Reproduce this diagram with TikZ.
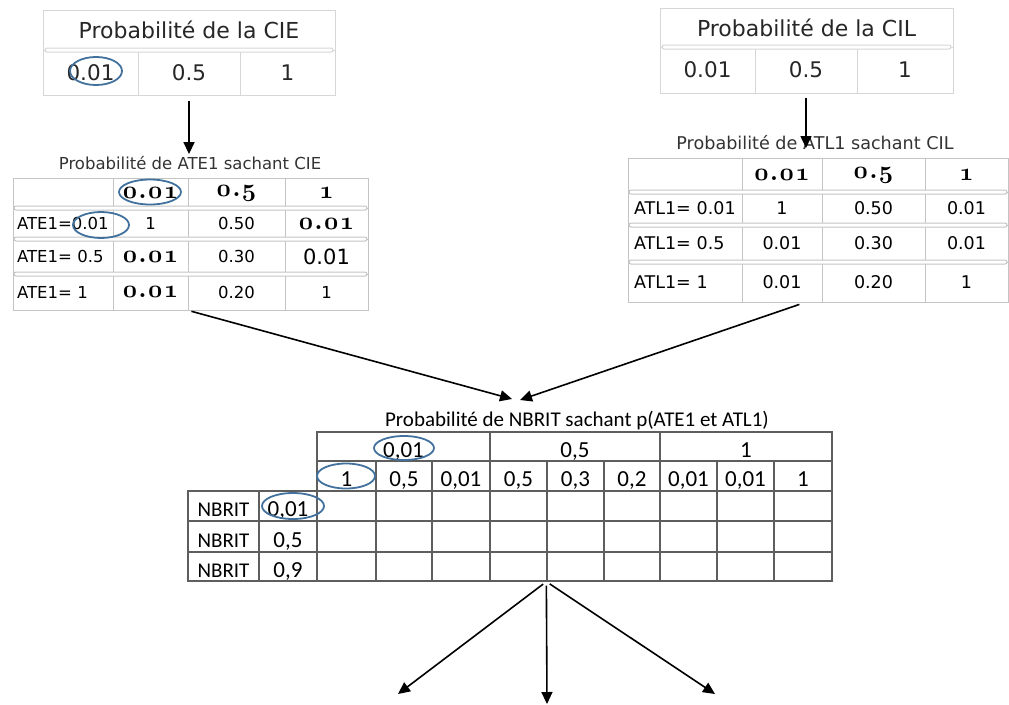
\documentclass[tikz,border=0pt]{standalone}
\usepackage{fontspec}
\setmainfont{DejaVu Sans}
\newfontfamily\carlfont{Carlito}
\usepackage{tikz}
\usetikzlibrary{shapes.geometric,arrows.meta,positioning,calc}

\definecolor{pickblue}{HTML}{41719C}
\definecolor{lightrule}{HTML}{D6D6D6}
\definecolor{midrule}{HTML}{C4C4C4}
\definecolor{darkrule}{HTML}{5E5E5E}

% old style figures of the header cells
\newcommand{\oldfig}[1]{{\fontsize{24.88}{28}\selectfont\boldmath$\mathnormal{#1}$}}

\tikzset{
  headcell/.style={rectangle, draw=lightrule, line width=1pt, inner sep=0pt,
    font=\fontsize{22}{26}\selectfont, text=black!85},
  probcell/.style={rectangle, draw=lightrule, line width=1pt, inner sep=0pt,
    font=\fontsize{21.5}{25}\selectfont, text=black!85},
  sepbar/.style={rectangle, draw=lightrule, fill=white, rounded corners=2pt, line width=1pt,
    minimum height=4pt, inner sep=0pt},
  condsep/.style={sepbar, draw=midrule},
  condtitle/.style={inner sep=0pt, font=\fontsize{16.5}{20}\selectfont, text=black!80},
  condcell/.style={rectangle, draw=midrule, line width=1pt, inner sep=0pt,
    font=\fontsize{16.5}{19}\selectfont},
  condlabel/.style={condcell, inner xsep=4pt, text width=#1, align=left},
  nbrtext/.style={inner sep=0pt, font=\carlfont\fontsize{21}{25}\selectfont},
  nbrcell/.style={rectangle, draw=darkrule, line width=1.3pt, inner sep=0pt,
    text height=21pt, text depth=0pt, font=\carlfont\fontsize{23}{27}\selectfont},
  nbrlabel/.style={nbrcell, font=\carlfont\fontsize{21}{25}\selectfont},
  pick/.style={ellipse, draw=pickblue, line width=1.8pt, inner sep=0pt},
  flowarrow/.style={-{Triangle[length=12pt,width=11pt]}, draw=black, line width=1.6pt},
}

\begin{document}
\begin{tikzpicture}[x=1pt, y=-1pt]
  \useasboundingbox (0,0) rectangle (1009,704);

  % Prior of CIE (top left)
  \node[headcell, minimum width=292pt, minimum height=40pt] (ciehead) at (189,30) {Probabilité de la CIE};
  \node[probcell, minimum width=95pt, minimum height=45pt] (cie1) at (90.5,72.5) {0.01};
  \node[probcell, minimum width=102pt, minimum height=45pt] (cie2) at (189,72.5) {0.5};
  \node[probcell, minimum width=95pt, minimum height=45pt] (cie3) at (287.5,72.5) {1};
  \node[sepbar, minimum width=288pt] (ciesep) at (189,50) {};
  \node[pick, minimum width=52pt, minimum height=28pt] (ciepick) at (96,71) {};

  % Prior of CIL (top right)
  \node[headcell, minimum width=293pt, minimum height=39pt] (cilhead) at (806.5,27.5) {Probabilité de la CIL};
  \node[probcell, minimum width=95pt, minimum height=46pt] (cil1) at (707.5,70) {0.01};
  \node[probcell, minimum width=102pt, minimum height=46pt] (cil2) at (806,70) {0.5};
  \node[probcell, minimum width=96pt, minimum height=46pt] (cil3) at (905,70) {1};
  \node[sepbar, minimum width=289pt] (cilsep) at (806.5,47) {};

  % ATE1 given CIE (middle left)
  \node[condtitle] (atetitle) at (190,163) {Probabilité de ATE1 sachant CIE};
  \node[condcell, minimum width=100pt, minimum height=30pt] (ate00) at (63,193) {};
  \node[condcell, minimum width=75pt, minimum height=30pt] (ate01) at (150.5,193) {\oldfig{0\kern1.5pt.\kern1.5pt0\kern1.5pt1}};
  \node[condcell, minimum width=97pt, minimum height=30pt] (ate02) at (236.5,193) {\oldfig{0\kern1.5pt.\kern1.5pt5}};
  \node[condcell, minimum width=83pt, minimum height=30pt] (ate03) at (326.5,193) {\oldfig{1}};
  \node[condlabel=92pt, minimum height=31pt] (ate10) at (63,223.5) {ATE1=0.01};
  \node[condcell, minimum width=75pt, minimum height=31pt] (ate11) at (150.5,223.5) {1};
  \node[condcell, minimum width=97pt, minimum height=31pt] (ate12) at (236.5,223.5) {0.50};
  \node[condcell, minimum width=83pt, minimum height=31pt] (ate13) at (326.5,223.5) {\oldfig{0\kern1.5pt.\kern1.5pt0\kern1.5pt1}};
  \node[condlabel=92pt, minimum height=35pt] (ate20) at (63,256.5) {ATE1= 0.5};
  \node[condcell, minimum width=75pt, minimum height=35pt] (ate21) at (150.5,256.5) {\oldfig{0\kern1.5pt.\kern1.5pt0\kern1.5pt1}};
  \node[condcell, minimum width=97pt, minimum height=35pt] (ate22) at (236.5,256.5) {0.30};
  \node[condcell, minimum width=83pt, minimum height=35pt, font=\fontsize{21}{25}\selectfont] (ate23) at (326.5,256.5) {0.01};
  \node[condlabel=92pt, minimum height=36pt] (ate30) at (63,292) {ATE1= 1};
  \node[condcell, minimum width=75pt, minimum height=36pt] (ate31) at (150.5,292) {\oldfig{0\kern1.5pt.\kern1.5pt0\kern1.5pt1}};
  \node[condcell, minimum width=97pt, minimum height=36pt] (ate32) at (236.5,292) {0.20};
  \node[condcell, minimum width=83pt, minimum height=36pt] (ate33) at (326.5,292) {1};
  \node[condsep, minimum width=353pt] (atesep1) at (190.5,208) {};
  \node[condsep, minimum width=353pt] (atesep2) at (190.5,239) {};
  \node[condsep, minimum width=353pt] (atesep3) at (190.5,274) {};
  \node[pick, minimum width=62pt, minimum height=25pt] (atepick1) at (150,192) {};
  \node[pick, minimum width=56pt, minimum height=26pt] (atepick2) at (101,225) {};

  % ATL1 given CIL (middle right)
  \node[condtitle, font=\fontsize{17.6}{21}\selectfont] (atltitle) at (815,143) {Probabilité de ATL1 sachant CIL};
  \node[condcell, minimum width=114pt, minimum height=34pt] (atl00) at (685,175) {};
  \node[condcell, minimum width=80pt, minimum height=34pt] (atl01) at (782,175) {\oldfig{0\kern1.5pt.\kern1.5pt0\kern1.5pt1}};
  \node[condcell, minimum width=103pt, minimum height=34pt] (atl02) at (873.5,175) {\oldfig{0\kern1.5pt.\kern1.5pt5}};
  \node[condcell, minimum width=83pt, minimum height=34pt] (atl03) at (966.5,175) {\oldfig{1}};
  \node[condlabel=102pt, inner xsep=6pt, minimum height=33pt, font=\fontsize{17.5}{20}\selectfont] (atl10) at (685,208.5) {ATL1= 0.01};
  \node[condcell, minimum width=80pt, minimum height=33pt, font=\fontsize{17.5}{20}\selectfont] (atl11) at (782,208.5) {1};
  \node[condcell, minimum width=103pt, minimum height=33pt, font=\fontsize{17.5}{20}\selectfont] (atl12) at (873.5,208.5) {0.50};
  \node[condcell, minimum width=83pt, minimum height=33pt, font=\fontsize{17.5}{20}\selectfont] (atl13) at (966.5,208.5) {0.01};
  \node[condlabel=102pt, inner xsep=6pt, minimum height=37pt, font=\fontsize{17.5}{20}\selectfont] (atl20) at (685,243.5) {ATL1= 0.5};
  \node[condcell, minimum width=80pt, minimum height=37pt, font=\fontsize{17.5}{20}\selectfont] (atl21) at (782,243.5) {0.01};
  \node[condcell, minimum width=103pt, minimum height=37pt, font=\fontsize{17.5}{20}\selectfont] (atl22) at (873.5,243.5) {0.30};
  \node[condcell, minimum width=83pt, minimum height=37pt, font=\fontsize{17.5}{20}\selectfont] (atl23) at (966.5,243.5) {0.01};
  \node[condlabel=102pt, inner xsep=6pt, minimum height=40pt, font=\fontsize{17.5}{20}\selectfont] (atl30) at (685,282) {ATL1= 1};
  \node[condcell, minimum width=80pt, minimum height=40pt, font=\fontsize{17.5}{20}\selectfont] (atl31) at (782,282) {0.01};
  \node[condcell, minimum width=103pt, minimum height=40pt, font=\fontsize{17.5}{20}\selectfont] (atl32) at (873.5,282) {0.20};
  \node[condcell, minimum width=83pt, minimum height=40pt, font=\fontsize{17.5}{20}\selectfont] (atl33) at (966.5,282) {1};
  \node[condsep, minimum width=378pt] (atlsep1) at (818,192) {};
  \node[condsep, minimum width=378pt] (atlsep2) at (818,225) {};
  \node[condsep, minimum width=378pt] (atlsep3) at (818,262) {};

  % NBRIT given ATE1 and ATL1 (bottom)
  \node[nbrtext] (nbrtitle) at (577,421) {Probabilité de NBRIT sachant p(ATE1 et ATL1)};
  \node[nbrcell, minimum width=173pt, minimum height=29pt] (nbrg1) at (403.5,446.5) {0,01};
  \node[nbrcell, minimum width=170pt, minimum height=29pt] (nbrg2) at (575,446.5) {0,5};
  \node[nbrcell, minimum width=172pt, minimum height=29pt] (nbrg3) at (746,446.5) {1};
  \node[nbrcell, minimum width=59pt, minimum height=30pt] (nbrs1) at (346.5,476) {1};
  \node[nbrcell, minimum width=56pt, minimum height=30pt] (nbrs2) at (404,476) {0,5};
  \node[nbrcell, minimum width=58pt, minimum height=30pt] (nbrs3) at (461,476) {0,01};
  \node[nbrcell, minimum width=57pt, minimum height=30pt] (nbrs4) at (518.5,476) {0,5};
  \node[nbrcell, minimum width=57pt, minimum height=30pt] (nbrs5) at (575.5,476) {0,3};
  \node[nbrcell, minimum width=56pt, minimum height=30pt] (nbrs6) at (632,476) {0,2};
  \node[nbrcell, minimum width=57pt, minimum height=30pt] (nbrs7) at (688.5,476) {0,01};
  \node[nbrcell, minimum width=57pt, minimum height=30pt] (nbrs8) at (745.5,476) {0,01};
  \node[nbrcell, minimum width=58pt, minimum height=30pt] (nbrs9) at (803,476) {1};
  \node[nbrlabel, minimum width=71pt, minimum height=30pt] (nbrl1) at (223.5,506) {NBRIT};
  \node[nbrcell, minimum width=58pt, minimum height=30pt] (nbrv1) at (288,506) {0,01};
  \node[nbrlabel, minimum width=71pt, minimum height=31pt] (nbrl2) at (223.5,536.5) {NBRIT};
  \node[nbrcell, minimum width=58pt, minimum height=31pt] (nbrv2) at (288,536.5) {0,5};
  \node[nbrlabel, minimum width=71pt, minimum height=29pt] (nbrl3) at (223.5,566.5) {NBRIT};
  \node[nbrcell, minimum width=58pt, minimum height=29pt] (nbrv3) at (288,566.5) {0,9};
  \foreach \cx/\cw [count=\c] in {346.5/59,404/56,461/58,518.5/57,575.5/57,632/56,688.5/57,745.5/57,803/58}
    \foreach \cy/\ch [count=\r] in {506/30,536.5/31,566.5/29}
      \node[nbrcell, minimum width=\cw pt, minimum height=\ch pt] (nbrb\r-\c) at (\cx,\cy) {};
  \node[pick, minimum width=60pt, minimum height=24pt] (nbrpick1) at (404,448) {};
  \node[pick, minimum width=58pt, minimum height=25pt] (nbrpick2) at (346,476) {};
  \node[pick, minimum width=62pt, minimum height=26pt] (nbrpick3) at (293,506) {};

  % free ends of the connectors
  \coordinate (cilend) at (806,148);
  \coordinate (meetl) at (512,399);
  \coordinate (meetr) at (520,400);
  \coordinate (outl) at (398,694);
  \coordinate (outm) at (547,704);
  \coordinate (outr) at (715,694);

  % Arrows
  \draw[flowarrow, shorten <=5pt, shorten >=2pt] (cie2.south) -- (cie2.south |- atetitle.north);
  \draw[flowarrow, shorten <=4pt] (cil2.south) -- (cilend);
  \draw[flowarrow, shorten <=3pt] (ate31.south east) -- (meetl);
  \draw[flowarrow, shorten <=6pt] ([xshift=23pt]atl31.south) -- (meetr);
  \draw[flowarrow, shorten <=4pt] (nbrb3-5.south west) -- (outl);
  \draw[flowarrow, shorten <=4pt] (nbrb3-5.south west) -- (outm);
  \draw[flowarrow, shorten <=4pt] (nbrb3-5.south west) -- (outr);

\end{tikzpicture}
\end{document}
